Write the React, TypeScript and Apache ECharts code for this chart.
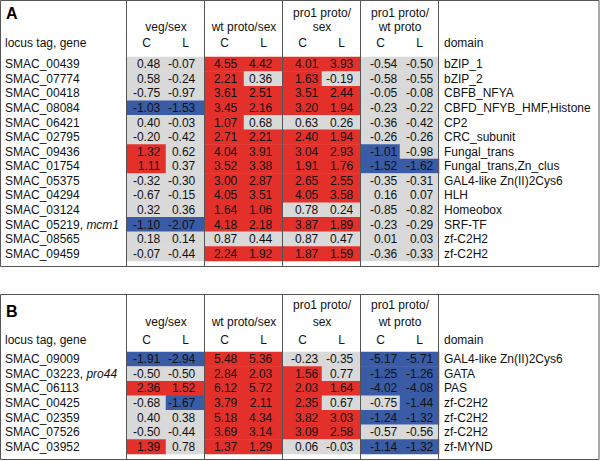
import React, { useEffect, useRef } from "react";
import * as echarts from "echarts";

const colGroups = ["veg/sex", "wt proto/sex", "pro1 proto/|sex", "pro1 proto/|wt proto"];
const colLabels = ["C", "L", "C", "L", "C", "L", "C", "L"];

const locusA = ["SMAC_00439", "SMAC_07774", "SMAC_00418", "SMAC_08084", "SMAC_06421", "SMAC_02795", "SMAC_09436", "SMAC_01754", "SMAC_05375", "SMAC_04294", "SMAC_03124", "SMAC_05219", "SMAC_08565", "SMAC_09459"];
const geneA = ["", "", "", "", "", "", "", "", "", "", "", "mcm1", "", ""];
const domainA = ["bZIP_1", "bZIP_2", "CBFB_NFYA", "CBFD_NFYB_HMF,Histone", "CP2", "CRC_subunit", "Fungal_trans", "Fungal_trans,Zn_clus", "GAL4-like Zn(II)2Cys6", "HLH", "Homeobox", "SRF-TF", "zf-C2H2", "zf-C2H2"];
const valuesA = [
  [0.48, -0.07, 4.55, 4.42, 4.01, 3.93, -0.54, -0.5],
  [0.58, -0.24, 2.21, 0.36, 1.63, -0.19, -0.58, -0.55],
  [-0.75, -0.97, 3.61, 2.51, 3.51, 2.44, -0.05, -0.08],
  [-1.03, -1.53, 3.45, 2.16, 3.2, 1.94, -0.23, -0.22],
  [0.4, -0.03, 1.07, 0.68, 0.63, 0.26, -0.36, -0.42],
  [-0.2, -0.42, 2.71, 2.21, 2.4, 1.94, -0.26, -0.26],
  [1.32, 0.62, 4.04, 3.91, 3.04, 2.93, -1.01, -0.98],
  [1.11, 0.37, 3.52, 3.38, 1.91, 1.76, -1.52, -1.62],
  [-0.32, -0.3, 3.0, 2.87, 2.65, 2.55, -0.35, -0.31],
  [-0.67, -0.15, 4.05, 3.51, 4.05, 3.58, 0.16, 0.07],
  [0.32, 0.36, 1.64, 1.06, 0.78, 0.24, -0.85, -0.82],
  [-1.1, -2.07, 4.18, 2.18, 3.87, 1.89, -0.23, -0.29],
  [0.18, 0.14, 0.87, 0.44, 0.87, 0.47, 0.01, 0.03],
  [-0.07, -0.44, 2.24, 1.92, 1.87, 1.59, -0.36, -0.33],
];

const locusB = ["SMAC_09009", "SMAC_03223", "SMAC_06113", "SMAC_00425", "SMAC_02359", "SMAC_07526", "SMAC_03952"];
const geneB = ["", "pro44", "", "", "", "", ""];
const domainB = ["GAL4-like Zn(II)2Cys6", "GATA", "PAS", "zf-C2H2", "zf-C2H2", "zf-C2H2", "zf-MYND"];
const valuesB = [
  [-1.91, -2.94, 5.48, 5.36, -0.23, -0.35, -5.17, -5.71],
  [-0.5, -0.5, 2.84, 2.03, 1.56, 0.77, -1.25, -1.26],
  [2.36, 1.52, 6.12, 5.72, 2.03, 1.64, -4.02, -4.08],
  [-0.68, -1.67, 3.79, 2.11, 2.35, 0.67, -0.75, -1.44],
  [0.4, 0.38, 5.18, 4.34, 3.82, 3.03, -1.24, -1.32],
  [-0.5, -0.44, 3.69, 3.14, 3.09, 2.58, -0.57, -0.56],
  [1.39, 0.78, 1.37, 1.29, 0.06, -0.03, -1.14, -1.32],
];

const FONT = "'Liberation Sans', Arial, sans-serif";
const TXT = "#111";
const RED = "#e3302a";
const BLUE = "#3a5ba6";
const GRAY = "#d9d9d9";
const LINE = "#555";
const labelDist = [6, 10, 7, 11, 4, 8, 3, 6];

function toData(values: number[][]) {
  const out: any[] = [];
  values.forEach((row, y) =>
    row.forEach((v, x) => {
      out.push({ value: [x, y, v], label: { distance: labelDist[x] } });
    })
  );
  return out;
}

export default function App() {
  const ref = useRef<HTMLDivElement>(null);
  useEffect(() => {
    document.body.style.margin = "0";
    const chart = echarts.init(ref.current!, null, { renderer: "svg" });

    const grids = [
      { left: 127, top: 57, width: 312, height: 204 },
      { left: 127, top: 352, width: 312, height: 102 },
    ];
    const xMargins = [8, 6];
    const locus = [locusA, locusB];
    const genes = [geneA, geneB];
    const domains = [domainA, domainB];
    const values = [valuesA, valuesB];

    const xAxis: any[] = [];
    const yAxis: any[] = [];
    const series: any[] = [];
    [0, 1].forEach((g) => {
      xAxis.push({
        type: "category",
        gridIndex: g,
        position: "top",
        data: colLabels.map((_, i) => String(i)),
        axisLine: { show: false },
        axisTick: { show: false },
        splitLine: { show: false },
        axisLabel: {
          formatter: (_v: string, i: number) => colLabels[i],
          margin: xMargins[g],
          fontSize: 12,
          fontFamily: FONT,
          color: TXT,
          interval: 0,
        },
      });
      yAxis.push({
        type: "category",
        gridIndex: g,
        inverse: true,
        data: locus[g],
        axisLine: { show: false },
        axisTick: { show: false },
        splitLine: { show: false },
        axisLabel: {
          interval: 0,
          align: "left",
          margin: 122,
          fontSize: 12,
          fontFamily: FONT,
          color: TXT,
          formatter: (v: string, i: number) => (genes[g][i] ? `${v}, {i|${genes[g][i]}}` : v),
          rich: { i: { fontStyle: "italic", fontSize: 12, fontFamily: FONT, color: TXT } },
        },
      });
      yAxis.push({
        type: "category",
        gridIndex: g,
        inverse: true,
        position: "right",
        data: locus[g],
        axisLine: { show: false },
        axisTick: { show: false },
        splitLine: { show: false },
        axisLabel: {
          interval: 0,
          align: "left",
          margin: 5,
          fontSize: 12,
          fontFamily: FONT,
          color: TXT,
          formatter: (_v: string, i: number) => domains[g][i],
        },
      });
      series.push({
        type: "heatmap",
        xAxisIndex: g,
        yAxisIndex: g * 2,
        data: toData(values[g]),
        label: {
          show: true,
          position: "insideRight",
          fontSize: 12,
          fontFamily: FONT,
          color: TXT,
          formatter: (p: any) => p.value[2].toFixed(2),
        },
        itemStyle: { borderWidth: 0 },
        emphasis: { disabled: true },
      });
    });

    const graphic: any[] = [];
    const tables = [
      { top: 0.5, bottom: 266.5, letter: "A", letterY: 13.5, line1: 13, line2: 27, single: 27, head: 43 },
      { top: 294.5, bottom: 459.5, letter: "B", letterY: 311, line1: 305, line2: 322, single: 322, head: 340 },
    ];
    const groupCenters = [166, 244, 322, 400];
    tables.forEach((t) => {
      graphic.push({
        type: "rect",
        shape: { x: 0.5, y: t.top, width: 598.5, height: t.bottom - t.top },
        style: { fill: "none", stroke: LINE, lineWidth: 1 },
        z: 100,
      });
      [126.5, 204.5, 282.5, 360.5, 438.5].forEach((x) =>
        graphic.push({
          type: "line",
          shape: { x1: x, y1: t.top, x2: x, y2: t.bottom },
          style: { stroke: LINE, lineWidth: 1 },
          z: 100,
        })
      );
      graphic.push({
        type: "text",
        x: 6,
        y: t.letterY,
        style: { text: t.letter, font: `bold 16px ${FONT}`, fill: "#000", textVerticalAlign: "middle" },
      });
      graphic.push({
        type: "text",
        x: 5,
        y: t.head,
        style: { text: "locus tag, gene", font: `12px ${FONT}`, fill: TXT, textVerticalAlign: "middle" },
      });
      graphic.push({
        type: "text",
        x: 444,
        y: t.head,
        style: { text: "domain", font: `12px ${FONT}`, fill: TXT, textVerticalAlign: "middle" },
      });
      colGroups.forEach((name, i) => {
        const parts = name.split("|");
        if (parts.length === 1) {
          graphic.push({
            type: "text",
            x: groupCenters[i],
            y: t.single,
            style: { text: parts[0], font: `12px ${FONT}`, fill: TXT, textAlign: "center", textVerticalAlign: "middle" },
          });
        } else {
          graphic.push({
            type: "text",
            x: groupCenters[i],
            y: t.line1,
            style: { text: parts[0], font: `12px ${FONT}`, fill: TXT, textAlign: "center", textVerticalAlign: "middle" },
          });
          graphic.push({
            type: "text",
            x: groupCenters[i],
            y: t.line2,
            style: { text: parts[1], font: `12px ${FONT}`, fill: TXT, textAlign: "center", textVerticalAlign: "middle" },
          });
        }
      });
    });

    chart.setOption({
      animation: false,
      backgroundColor: "#fff",
      textStyle: { fontFamily: FONT },
      grid: grids,
      xAxis,
      yAxis,
      visualMap: {
        type: "piecewise",
        show: false,
        dimension: 2,
        seriesIndex: [0, 1],
        pieces: [
          { gte: 1, color: RED },
          { lte: -1, color: BLUE },
          { gt: -1, lt: 1, color: GRAY },
        ],
      },
      series,
      graphic,
    });
    return () => chart.dispose();
  }, []);
  return <div ref={ref} style={{ width: 600, height: 461 }} />;
}
